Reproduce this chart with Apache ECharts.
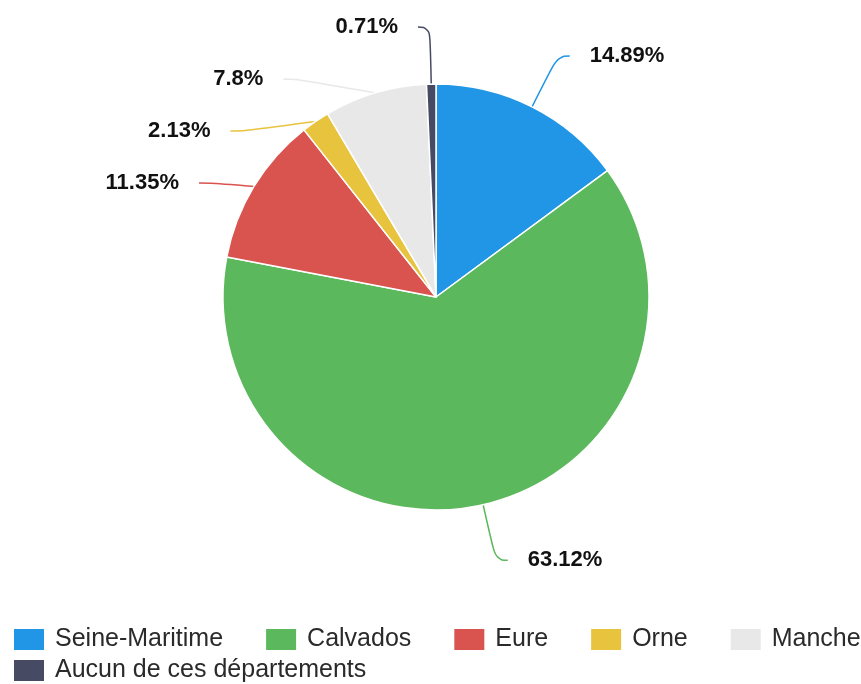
<!DOCTYPE html>
<html><head><meta charset="utf-8">
<script src="https://cdn.jsdelivr.net/npm/echarts@6/dist/echarts.min.js"></script>
<style>html,body{margin:0;padding:0;background:#fff}#c{width:861px;height:684px}</style>
</head><body><div id="c"></div>
<script>
const categories = ["Seine-Maritime","Calvados","Eure","Orne","Manche","Aucun de ces départements"];
const values = [14.89, 63.12, 11.35, 2.13, 7.8, 0.71];
const colors = ["#2196e6","#5cb85c","#d9534f","#e8c33e","#e8e8e8","#474a63"];
const chart = echarts.init(document.getElementById('c'));
const legendText = {fontSize:25, color:'#2a2a2a', fontFamily:'Liberation Sans, Arial', padding:[0,0,0,5]};
chart.setOption({
  animation:false,
  color: colors,
  legend:[{
    left:12, top:627, width:900, padding:0, itemWidth:32, itemHeight:23, itemGap:41, icon:'rect',
    textStyle:legendText, data: categories.slice(0,5)
  },{
    left:12, top:658, padding:0, itemWidth:32, itemHeight:23, itemGap:41, icon:'rect',
    textStyle:legendText, data: categories.slice(5)
  }],
  series:[{
    type:'pie', center:[436,297], radius:[0,213], startAngle:90, clockwise:true,
    itemStyle:{borderColor:'#fff', borderWidth:1.5},
    label:{formatter: p => p.value + '%', fontSize:22, lineHeight:50, fontWeight:'bold', color:'#111', fontFamily:'Liberation Sans, Arial', distanceToLabelLine:20},
    labelLine:{length:57, length2:12, smooth:0.5, lineStyle:{width:1.5}},
    data: categories.map((n,i)=>({name:n, value:values[i]}))
  }]
});
</script></body></html>
